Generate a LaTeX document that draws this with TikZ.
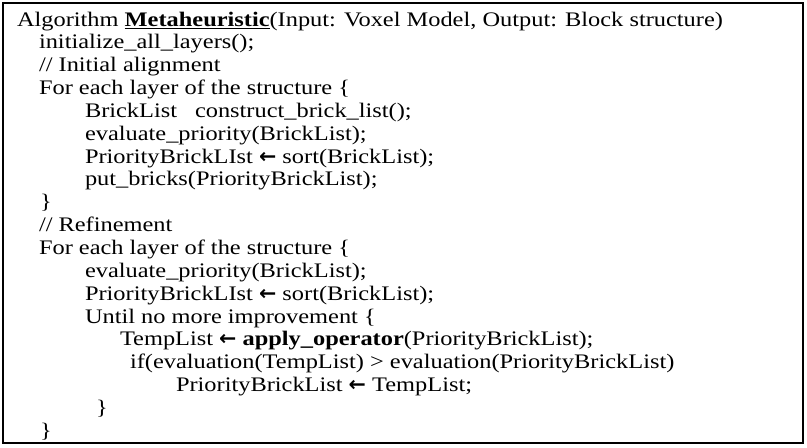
\documentclass[tikz,border=0pt]{standalone}
\usepackage{fontspec}
\setmainfont{Liberation Serif}[FakeStretch=1.18]
\newfontfamily\arrowfont{DejaVu Sans}
\newcommand{\getsarrow}{{\arrowfont\bfseries ←}}

\begin{document}
\begin{tikzpicture}[x=0.75pt,y=-0.75pt,inner sep=0pt,outer sep=0pt,
codeline/.style={anchor=base west,font=\fontsize{15.5}{18}\selectfont}]
\useasboundingbox (0,0) rectangle (807,447);
\draw[line width=1.5pt] (3,3) rectangle (803,443);

\draw (17,26) node[codeline] (head) {Algorithm \underline{\textbf{Metaheuristic}}(Input: Voxel Model, Output: Block structure)};
\draw (39,48.85) node[codeline] (init) {initialize\_all\_layers();};
\draw (39,71.7) node[codeline] (cmt1) {// Initial alignment};
\draw (39,94.55) node[codeline] (for1) {For each layer of the structure \{};
\draw (85,117.4) node[codeline] (brick) {\makebox[82.5pt][l]{BrickList}construct\_brick\_list();};
\draw (85,140.25) node[codeline] (eval1) {evaluate\_priority(BrickList);};
\draw (85,163.1) node[codeline] (sort1) {PriorityBrickLIst \getsarrow{} sort(BrickList);};
\draw (85,185.95) node[codeline] (put) {put\_bricks(PriorityBrickList);};
\draw (40,208.8) node[codeline] (end1) {\}};
\draw (39,231.65) node[codeline] (cmt2) {// Refinement};
\draw (39,254.5) node[codeline] (for2) {For each layer of the structure \{};
\draw (85,277.35) node[codeline] (eval2) {evaluate\_priority(BrickList);};
\draw (85,300.2) node[codeline] (sort2) {PriorityBrickLIst \getsarrow{} sort(BrickList);};
\draw (85,323.05) node[codeline] (until) {Until no more improvement \{};
\draw (120,345.9) node[codeline] (apply) {TempList \getsarrow{} \textbf{apply\_operator}(PriorityBrickList);};
\draw (130,368.75) node[codeline] (cond) {if(evaluation(TempList) > evaluation(PriorityBrickList)};
\draw (176,391.6) node[codeline] (swap) {PriorityBrickList \getsarrow{} TempList;};
\draw (96,414.45) node[codeline] (end2) {\}};
\draw (40,437.3) node[codeline] (end3) {\}};
\end{tikzpicture}
\end{document}
